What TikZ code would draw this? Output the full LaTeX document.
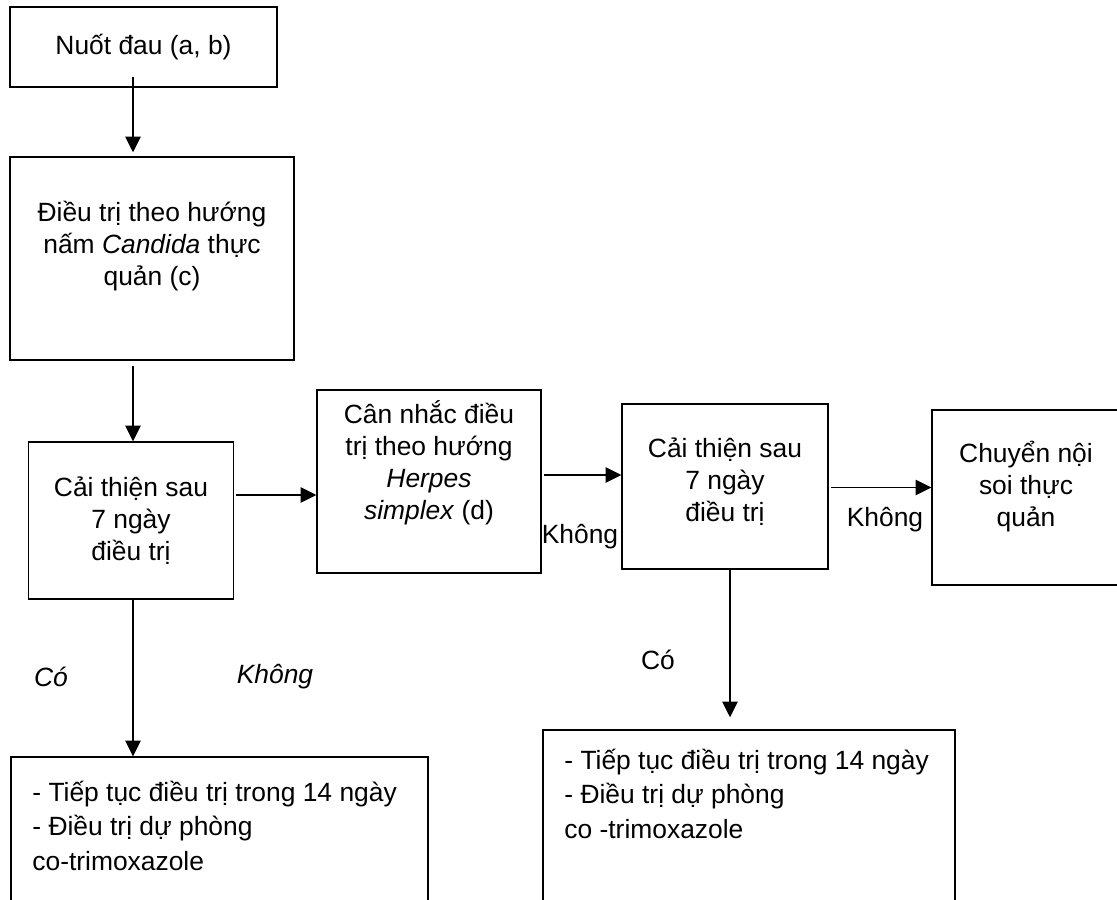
\documentclass[tikz,border=0pt]{standalone}
\usepackage{fontspec}
\setmainfont{Liberation Sans}
\usetikzlibrary{positioning,arrows.meta}
\tikzset{
  every node/.style={font=\fontsize{13.2}{16}\selectfont},
  box/.style={
    rectangle, draw=black, line width=0.7pt,
    inner sep=0pt, align=center
  },
  boxtext/.style={align=center, inner sep=0pt},
  listtext/.style={
    align=left, inner sep=0pt, anchor=west,
    font=\fontsize{13.2}{16.8}\selectfont
  },
  arrow/.style={
    -{Triangle[length=7.8pt,width=7.6pt]},
    line width=0.9pt, draw=black
  },
}

\begin{document}
\begin{tikzpicture}[x=0.5pt, y=-0.5pt]
  \useasboundingbox (0,0) rectangle (1117,899);
  \clip (0,0) rectangle (1117,899);
  \coordinate (spine) at (133,0);

  % left column
  \node[box, minimum width=133.5pt, minimum height=40pt] (nuot) at (143.5,47) {Nuốt đau (a, b)};
  \node[box, minimum width=142pt, minimum height=101.5pt] (dieutri) at (152,258.5) {};
  \node[boxtext] (dieutri-t) at (152,246) {Điều trị theo hướng\\nấm \textit{Candida} thực\\quản (c)};
  \node[box, minimum width=102.5pt, minimum height=78.5pt] (caithien1) at (131,520.5) {Cải thiện sau\\7 ngày\\điều trị};

  % middle and right
  \node[box, minimum width=112pt, minimum height=91.5pt] (cannhac) at (429,481.5) {};
  \node[boxtext] (cannhac-t) at (429,463) {Cân nhắc điều\\trị theo hướng\\\textit{Herpes}\\\textit{simplex} (d)};
  \node[box, minimum width=103pt, minimum height=82.5pt] (caithien2) at (725,486.5) {};
  \node[boxtext] (caithien2-t) at (725,482) {Cải thiện sau\\7 ngày\\điều trị};
  \node[box, minimum width=94pt, minimum height=87.5pt] (chuyen) at (1026,497.5) {};
  \node[boxtext] (chuyen-t) at (1026,487) {Chuyển nội\\soi thực\\quản};

  % bottom boxes
  \node[box, minimum width=208.5pt, minimum height=81.5pt] (tieptuc1) at (219.5,838.5) {};
  \node[listtext] (tieptuc1-t) at (32,826) {- Tiếp tục điều trị trong 14 ngày\\- Điều trị dự phòng\\[1pt]co-trimoxazole};
  \node[box, minimum width=206pt, minimum height=95pt] (tieptuc2) at (749,825) {};
  \node[listtext] (tieptuc2-t) at (564,794) {- Tiếp tục điều trị trong 14 ngày\\- Điều trị dự phòng\\[1pt]co -trimoxazole};

  % labels
  \node (co-left) at (51,677) {\itshape Có};
  \node (khong-left) at (275,677) {\itshape Không};
  \node (khong-mid) at (580,537) {Không};
  \node (khong-right) at (885,520) {Không};
  \node (co-right) at (658,660) {Có};

  \draw[arrow, shorten >=2pt, shorten <=-5.5pt] (nuot.south -| spine) -- (dieutri.north -| spine);
  \draw[arrow, shorten <=2.5pt] (dieutri.south -| spine) -- (caithien1.north -| spine);
  \draw[arrow, shorten <=1pt] ([yshift=12.75pt]caithien1.east) -- ([yshift=12.75pt]caithien1.east -| cannhac.west);
  \draw[arrow, shorten <=1pt] ([yshift=3.25pt]cannhac.east) -- ([yshift=3.25pt]cannhac.east -| caithien2.west);
  \draw[arrow, shorten <=1pt] ([yshift=-0.5pt]caithien2.east) -- ([yshift=-0.5pt]caithien2.east -| chuyen.west);
  \draw[arrow] (caithien1.south -| spine) -- (tieptuc1.north -| spine);
  \draw[arrow, shorten >=6pt] ([xshift=2.5pt]caithien2.south) -- ([xshift=2.5pt]caithien2.south |- tieptuc2.north);
\end{tikzpicture}
\end{document}
